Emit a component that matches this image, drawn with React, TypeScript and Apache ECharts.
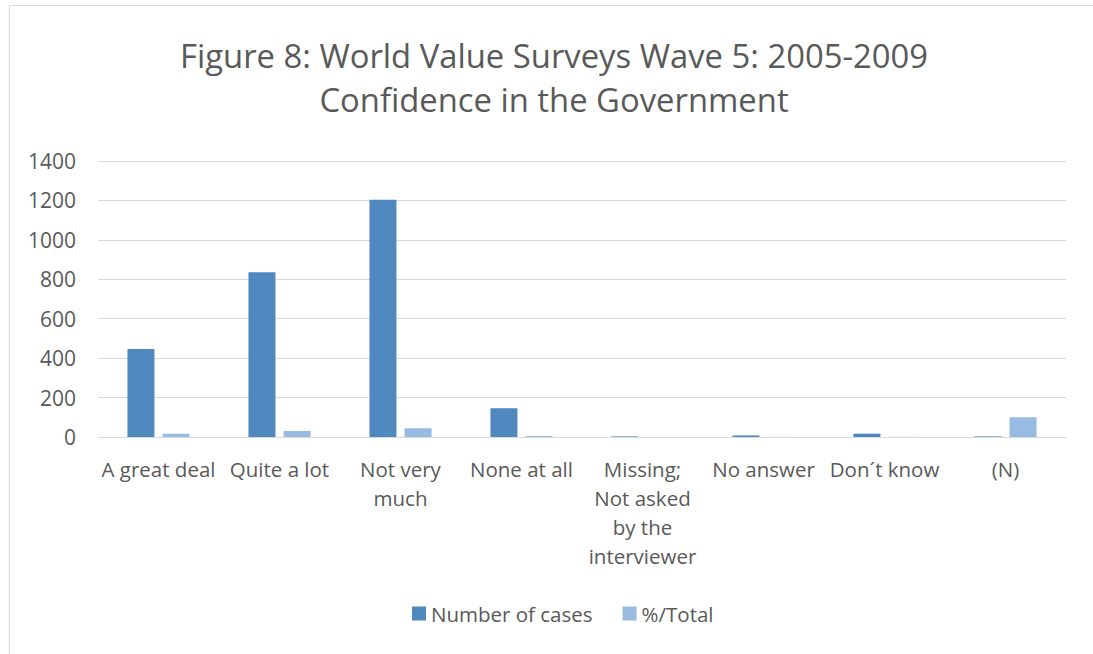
import React, { useEffect, useRef } from "react";
import * as echarts from "echarts";

const categories = [
  "A great deal",
  "Quite a lot",
  "Not very\nmuch",
  "None at all",
  "Missing;\nNot asked\nby the\ninterviewer",
  "No answer",
  "Don´t know",
  "(N)",
];
const numberOfCases = [446, 836, 1204, 146, 3, 8, 17, 3];
const pctTotal = [16.5, 30.9, 44.5, 5.4, 0.1, 0.3, 0.6, 100];
const yTicks = [0, 200, 400, 600, 800, 1000, 1200, 1400];

const FONT = "'Open Sans', sans-serif";
const TXT = "#595959";

export default function App() {
  const ref = useRef<HTMLDivElement>(null);
  useEffect(() => {
    const chart = echarts.init(ref.current!, null, { renderer: "svg" });
    chart.setOption({
      animation: false,
      backgroundColor: "#ffffff",
      textStyle: { fontFamily: FONT },
      title: {
        text: "Figure 8: World Value Surveys Wave 5: 2005-2009\nConfidence in the Government",
        left: 549,
        textAlign: "center",
        top: 28,
        textStyle: {
          fontFamily: FONT,
          fontSize: 32.8,
          fontWeight: "normal",
          color: TXT,
          lineHeight: 44,
        },
      },
      graphic: [
        {
          type: "rect",
          shape: { x: 9.5, y: 5.5, width: 1100, height: 700 },
          style: { fill: "none", stroke: "#d9d9d9", lineWidth: 1 },
          silent: true,
        },
      ],
      legend: {
        top: 598,
        left: 407,
        itemWidth: 14,
        itemHeight: 14,
        itemGap: 30,
        icon: "rect",
        textStyle: { fontFamily: FONT, fontSize: 20.5, color: TXT, padding: [0, 0, 0, 0] },
        data: ["Number of cases", "%/Total"],
      },
      grid: { left: 98, right: 27, top: 161, bottom: 217, containLabel: false },
      xAxis: {
        type: "category",
        data: categories,
        axisLine: { lineStyle: { color: "#d9d9d9", width: 1 } },
        axisTick: { show: false },
        axisLabel: {
          interval: 0,
          fontFamily: FONT,
          fontSize: 20.5,
          color: TXT,
          lineHeight: 29,
          margin: 17,
        },
      },
      yAxis: {
        type: "value",
        min: yTicks[0],
        max: yTicks[yTicks.length - 1],
        interval: 200,
        axisLine: { show: false },
        axisTick: { show: false },
        splitLine: { lineStyle: { color: "#d9d9d9", width: 1 } },
        axisLabel: {
          fontFamily: FONT,
          fontSize: 21,
          color: TXT,
          margin: 22,
          formatter: (v: number) => String(v),
        },
      },
      series: [
        {
          name: "Number of cases",
          type: "bar",
          data: numberOfCases,
          barWidth: 27,
          barGap: "30%",
          itemStyle: { color: "#4f89bf" },
        },
        {
          name: "%/Total",
          type: "bar",
          data: pctTotal,
          barWidth: 27,
          itemStyle: { color: "#98bbe1" },
        },
      ],
    });
    return () => chart.dispose();
  }, []);
  return (
    <div
      ref={ref}
      style={{ position: "absolute", left: 0, top: 0, width: 1093, height: 654 }}
    />
  );
}
